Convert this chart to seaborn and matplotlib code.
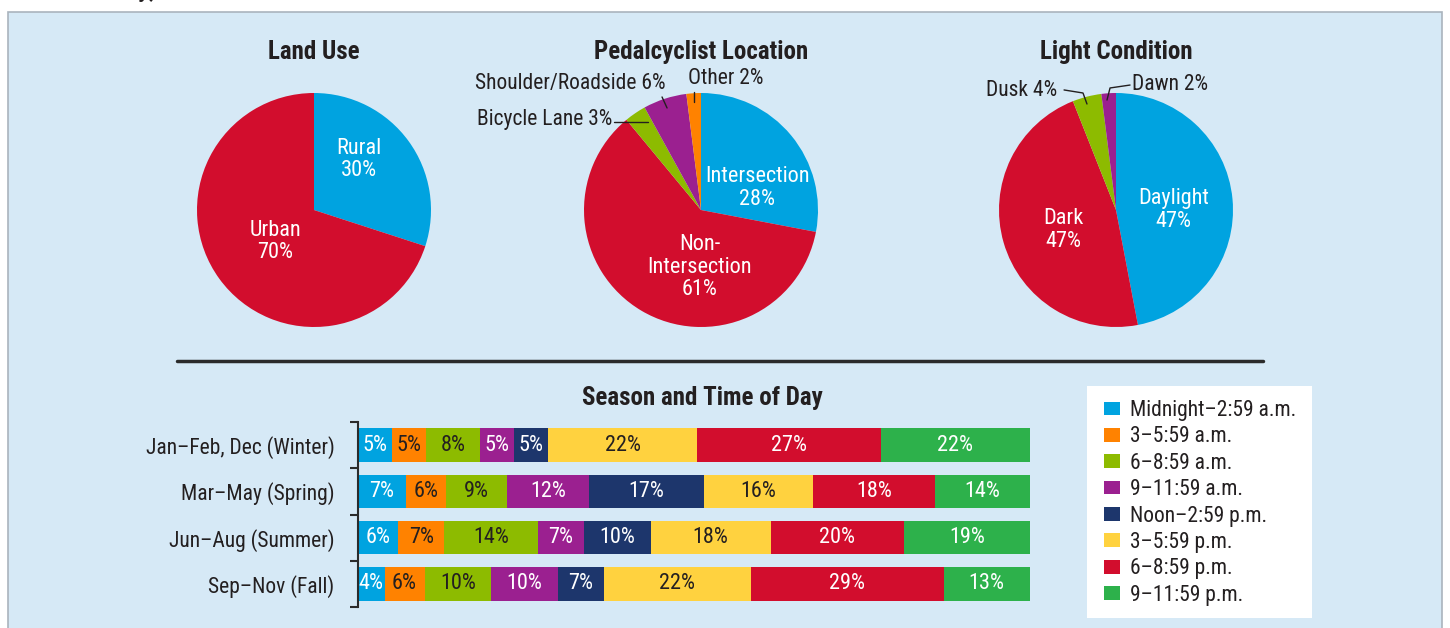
import matplotlib
matplotlib.use('Agg')
import matplotlib.pyplot as plt
from matplotlib import font_manager
from matplotlib.patches import Rectangle, Patch
from matplotlib.lines import Line2D
import pandas as pd
import seaborn as sns

# --- pie data ---
land_labels = ['Rural', 'Urban']
land_values = [30, 70]
loc_labels = ['Intersection', 'Non-Intersection', 'Bicycle Lane', 'Shoulder/Roadside', 'Other']
loc_values = [28, 61, 3, 6, 2]
light_labels = ['Daylight', 'Dark', 'Dusk', 'Dawn']
light_values = [47, 47, 4, 2]

# --- season / time of day data (percent) ---
seasons = ['Jan–Feb, Dec (Winter)', 'Mar–May (Spring)', 'Jun–Aug (Summer)', 'Sep–Nov (Fall)']
periods = ['Midnight–2:59 a.m.', '3–5:59 a.m.', '6–8:59 a.m.', '9–11:59 a.m.',
           'Noon–2:59 p.m.', '3–5:59 p.m.', '6–8:59 p.m.', '9–11:59 p.m.']
winter = [5, 5, 8, 5, 5, 22, 27, 22]
spring = [7, 6, 9, 12, 17, 16, 18, 14]
summer = [6, 7, 14, 7, 10, 18, 20, 19]
fall = [4, 6, 10, 10, 7, 22, 29, 13]

# colours
BLUE, ORANGE, LIME, PURPLE = '#00a3e0', '#ff8200', '#8dbb00', '#9b2090'
NAVY, YELLOW, RED, GREEN = '#1d366c', '#ffd23f', '#d20d2d', '#2db14b'
palette = [BLUE, ORANGE, LIME, PURPLE, NAVY, YELLOW, RED, GREEN]
dark_text = {ORANGE, LIME, YELLOW}
TEXT = '#231f20'
BG = '#d6e9f6'

sns.set_style('white')
installed = {f.name for f in font_manager.fontManager.ttflist}
FONT = 'Roboto'
for fam in ['Roboto Condensed', 'Liberation Sans Narrow', 'Roboto']:
    if fam in installed:
        FONT = fam
        break
plt.rcParams['font.family'] = [FONT, 'DejaVu Sans']
plt.rcParams['text.color'] = TEXT

W, H = 1450, 628
fig = plt.figure(figsize=(14.5, 6.28), dpi=100)
fig.patch.set_facecolor('white')


def px_axes(x0, y0, x1, y1):
    return fig.add_axes([x0 / W, 1 - y1 / H, (x1 - x0) / W, (y1 - y0) / H])


# background panel
fig.patches.append(Rectangle((8 / W, -0.05), 1434 / W, 1.05 - 12 / H,
                             transform=fig.transFigure, facecolor=BG,
                             edgecolor='#aab4bd', lw=1.2, zorder=-5))
# heading above the panel, cut off by the top edge as in the source
fig.text(156 / W, 1 + 3 / H, 'Day,', ha='right', va='baseline', fontsize=18,
         fontweight='bold')

TITLE_FS = 18
LAB_FS = 16
SIDE_FS = 15.5


def draw_pie(cx, cy, r, values, colors, title):
    ax = px_axes(cx - r, cy - r, cx + r, cy + r)
    ax.pie(values, colors=colors, startangle=90, counterclock=False, radius=1,
           wedgeprops=dict(linewidth=0))
    ax.set_xlim(-1, 1)
    ax.set_ylim(-1, 1)
    ax.set_aspect('equal')
    ax.axis('off')
    fig.text(cx / W, 1 - 52 / H, title, ha='center', va='center',
             fontsize=TITLE_FS, fontweight='bold')
    return ax


lab = dict(fontsize=LAB_FS, ha='center', va='center', color='white', linespacing=1.1)
side = dict(fontsize=SIDE_FS, color=TEXT, va='center')
lead = dict(color=TEXT, lw=1, clip_on=False)

# Land use
ax1 = draw_pie(314, 210, 117, land_values, [BLUE, RED], 'Land Use')
ax1.text(0.38, 0.43, f'{land_labels[0]}\n{land_values[0]}%', **lab)
ax1.text(-0.33, -0.27, f'{land_labels[1]}\n{land_values[1]}%', **lab)

# Pedalcyclist location
ax2 = draw_pie(701, 210, 117, loc_values, [BLUE, RED, LIME, PURPLE, ORANGE],
               'Pedalcyclist Location')
ax2.text(0.48, 0.19, f'{loc_labels[0]}\n{loc_values[0]}%', **lab)
ax2.text(-0.01, -0.49, f'Non-\nIntersection\n{loc_values[1]}%', **lab)
ax2.text(-0.76, 0.77, f'{loc_labels[2]} {loc_values[2]}%', ha='right', **side)
ax2.plot([-0.745, -0.45], [0.752, 0.752], **lead)
ax2.text(-0.30, 1.08, f'{loc_labels[3]} {loc_values[3]}%', ha='right', **side)
ax2.plot([-0.333, -0.29], [0.966, 0.872], **lead)
ax2.text(-0.11, 1.12, f'{loc_labels[4]} {loc_values[4]}%', ha='left', **side)
ax2.plot([-0.06, -0.06], [1.01, 0.92], **lead)

# Light condition
ax3 = draw_pie(1116, 210, 117, light_values, [BLUE, RED, LIME, PURPLE], 'Light Condition')
ax3.text(0.49, 0.0, f'{light_labels[0]}\n{light_values[0]}%', **lab)
ax3.text(-0.45, -0.17, f'{light_labels[1]}\n{light_values[1]}%', **lab)
ax3.text(-0.50, 1.02, f'{light_labels[2]} {light_values[2]}%', ha='right', **side)
ax3.plot([-0.444, -0.282, -0.248], [1.026, 1.0, 0.906], **lead)
ax3.text(0.137, 1.07, f'{light_labels[3]} {light_values[3]}%', ha='left', **side)
ax3.plot([0.12, -0.051, -0.077], [1.068, 1.043, 0.94], **lead)

# divider
fig.add_artist(Line2D([177 / W, 1263 / W], [1 - 361 / H] * 2, color='#2b2b2b', lw=2.5))

# stacked bars (drawn as cumulative shares, longest first)
df = pd.DataFrame([winter, spring, summer, fall], index=seasons, columns=periods)
share = df.div(df.sum(axis=1), axis=0) * 100
cum = share.cumsum(axis=1)
cum_df = cum.reset_index().rename(columns={'index': 'season'})

axb = px_axes(358, 422, 1030, 607)
axb.set_facecolor('none')
for i in reversed(range(len(periods))):
    sns.barplot(data=cum_df, x=periods[i], y='season', order=seasons, orient='h',
                color=palette[i], saturation=1, width=0.72, errorbar=None,
                linewidth=0, ax=axb)

for j, s in enumerate(seasons):
    for i, p in enumerate(periods):
        mid = cum.loc[s, p] - share.loc[s, p] / 2
        c = TEXT if palette[i] in dark_text else 'white'
        axb.text(mid, j, f'{df.loc[s, p]}%', ha='center', va='center',
                 fontsize=LAB_FS, color=c)

axb.set_xlim(0, 100)
axb.set_ylim(3.5, -0.5)
axb.set_xlabel('')
axb.set_ylabel('')
axb.set_xticks([])
for sp in ['top', 'right', 'bottom']:
    axb.spines[sp].set_visible(False)
axb.spines['left'].set_color('#2b2b2b')
axb.spines['left'].set_linewidth(1.5)
axb.set_yticks(range(len(seasons)))
axb.set_yticklabels(seasons, fontsize=SIDE_FS, color=TEXT)
axb.set_yticks([-0.5, 0.5, 1.5, 2.5, 3.5], minor=True)
axb.tick_params(axis='y', which='major', length=0, pad=17)
axb.tick_params(axis='y', which='minor', length=6, width=1.5, color='#2b2b2b',
                direction='out', left=True)

fig.text(702 / W, 1 - 398 / H, 'Season and Time of Day', ha='center', va='center',
         fontsize=TITLE_FS, fontweight='bold')

# legend: white box + frameless legend
fig.patches.append(Rectangle((1087 / W, 1 - 618 / H), 225 / W, 232 / H,
                             transform=fig.transFigure, facecolor='white',
                             edgecolor='none', zorder=-4))
handles = [Patch(facecolor=c, edgecolor='none', label=l) for c, l in zip(palette, periods)]
leg = fig.legend(handles=handles, loc='upper left', bbox_to_anchor=(1104 / W, 1 - 400 / H),
                 frameon=False, fontsize=SIDE_FS, handlelength=0.75, handleheight=0.6,
                 handletextpad=0.45, labelspacing=0.25, borderpad=0, borderaxespad=0)
for t in leg.get_texts():
    t.set_color(TEXT)

fig.savefig('out.png', dpi=100, facecolor='white')
